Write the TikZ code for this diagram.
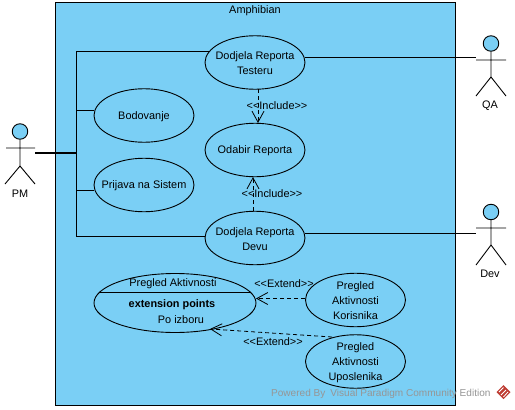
\documentclass[tikz,border=0pt]{standalone}
\usepackage{fontspec}
\setmainfont{Liberation Sans}
\usetikzlibrary{shapes.geometric,arrows.meta}
\definecolor{ucblue}{RGB}{122,207,245}
\definecolor{wmgrey}{RGB}{150,150,150}
\definecolor{wmred}{RGB}{190,60,50}
\tikzset{
  lbl/.style={font=\fontsize{10.9}{15}\selectfont,align=center,inner sep=0pt,yshift=-1pt},
  uc/.style={ellipse,draw=black,fill=ucblue,line width=0.9pt,inner sep=0pt,minimum width=100pt,minimum height=53.5pt},
  assoc/.style={draw=black,line width=0.9pt},
  dep/.style={draw=black,line width=0.8pt,dash pattern=on 4pt off 3pt,-{Straight Barb[length=11pt,width=12pt,line width=0.8pt]}},
  limb/.style={draw=black,line width=0.9pt},
  headc/.style={circle,draw=black,fill=ucblue,line width=0.9pt,minimum size=15.5pt,inner sep=0pt},
}
\begin{document}
\begin{tikzpicture}[x=1pt,y=-1pt]
\useasboundingbox (0,0) rectangle (515,410);
\fill[white] (0,0) rectangle (515,410);
\node[draw=black,fill=ucblue,line width=0.9pt,minimum width=400pt,minimum height=402.5pt,inner sep=0pt] (sys) at (255.5,203.75) {};
\node[lbl] (systitle) at (255,10) {Amphibian};

% use cases
\node[uc,label={[lbl]center:Dodjela Reporta\\Testeru}] (ucT) at (255,62.5) {};
\node[uc,label={[lbl]center:Bodovanje}] (ucB) at (144,115.5) {};
\node[uc,label={[lbl]center:Odabir Reporta}] (ucO) at (255,150) {};
\node[uc,label={[lbl]center:Prijava na Sistem}] (ucP) at (144,185) {};
\node[uc,label={[lbl]center:Dodjela Reporta\\Devu}] (ucD) at (255,238) {};
\node[uc,minimum width=162pt,minimum height=59pt] (ucA) at (175,303) {};
\draw[assoc] ([xshift=-75pt,yshift=11pt]ucA.center) coordinate (divL) -- ([xshift=75pt,yshift=11pt]ucA.center) coordinate (divR);
\node[lbl] (aTitle) at (173,283) {Pregled Aktivnosti};
\node[lbl,font=\fontsize{10.9}{15}\selectfont\bfseries] (aExt) at (172,304) {extension points};
\node[lbl] (aPo) at (181,319) {Po izboru};
\node[uc,label={[lbl]center:Pregled\\Aktivnosti\\Korisnika}] (ucK) at (355.5,300) {};
\node[uc,label={[lbl]center:Pregled\\Aktivnosti\\Uposlenika}] (ucU) at (355.5,361.5) {};

% actors
\node[headc] (pmH) at (20,131.5) {};
\coordinate (pmB) at (20,166);
\draw[limb] (pmH) -- (pmB) (6,148) -- (35,148) (5,184) -- (pmB) -- (35,184);
\node[lbl] (pmL) at (20,192.5) {PM};
\node[headc] (qaH) at (491,43.5) {};
\coordinate (qaB) at (491,77);
\draw[limb] (qaH) -- (qaB) (476,60) -- (506,60) (476,96) -- (qaB) -- (506,96);
\node[lbl] (qaL) at (490,104.5) {QA};
\node[headc] (devH) at (491,212) {};
\coordinate (devB) at (491,245);
\draw[limb] (devH) -- (devB) (476,228) -- (506,228) (476,265) -- (devB) -- (506,265);
\node[lbl] (devL) at (490,272.5) {Dev};

% associations
\coordinate (pmPort) at (35,153);
\coordinate (trunk) at (76,153);
\coordinate (qaPort) at (476,57);
\coordinate (devPort) at (476,233.5);
\draw[draw=black,line width=1.8pt] (pmPort) -- (trunk);
\draw[assoc] (trunk) |- (ucT.166);
\draw[assoc] (trunk) |- (ucB.174);
\draw[assoc] (trunk) |- (ucP.186);
\draw[assoc] (trunk) |- (ucD.178);
\draw[assoc] (ucT.east |- qaPort) -- (qaPort);
\draw[assoc] (ucD.east |- devPort) -- (devPort);

% dependencies
\coordinate (incA) at (258,89);
\coordinate (incB) at (258,123);
\coordinate (incC) at (253,211);
\coordinate (incD) at (253,177);
\draw[dep] (incA) -- (incB);
\draw[dep] (incC) -- (incD);
\coordinate (extA) at (305,298.5);
\coordinate (extB) at (256,298.5);
\coordinate (extC) at (332,337);
\coordinate (extD) at (210,329);
\draw[dep] (extA) -- (extB);
\draw[dep] (extC) -- (extD);
\node[lbl] (l1) at (277,105) {<{}<Include>{}>};
\node[lbl] (l2) at (272,193) {<{}<Include>{}>};
\node[lbl] (l3) at (284,283) {<{}<Extend>{}>};
\node[lbl] (l4) at (273,341) {<{}<Extend>{}>};

% watermark
\node[lbl,font=\fontsize{10.05}{15}\selectfont,text=wmgrey,anchor=west] (wm) at (271,393) {Powered By\hspace{5pt}Visual Paradigm Community Edition};
\fill[wmred] (503.5,385) -- (510.5,392) -- (503.5,399) -- (496.5,392) -- cycle;
\draw[white,line width=0.8pt] (499,392) -- (503.5,387.5) (501,395) -- (506,390) (503.5,397) -- (508,392);
\end{tikzpicture}
\end{document}
